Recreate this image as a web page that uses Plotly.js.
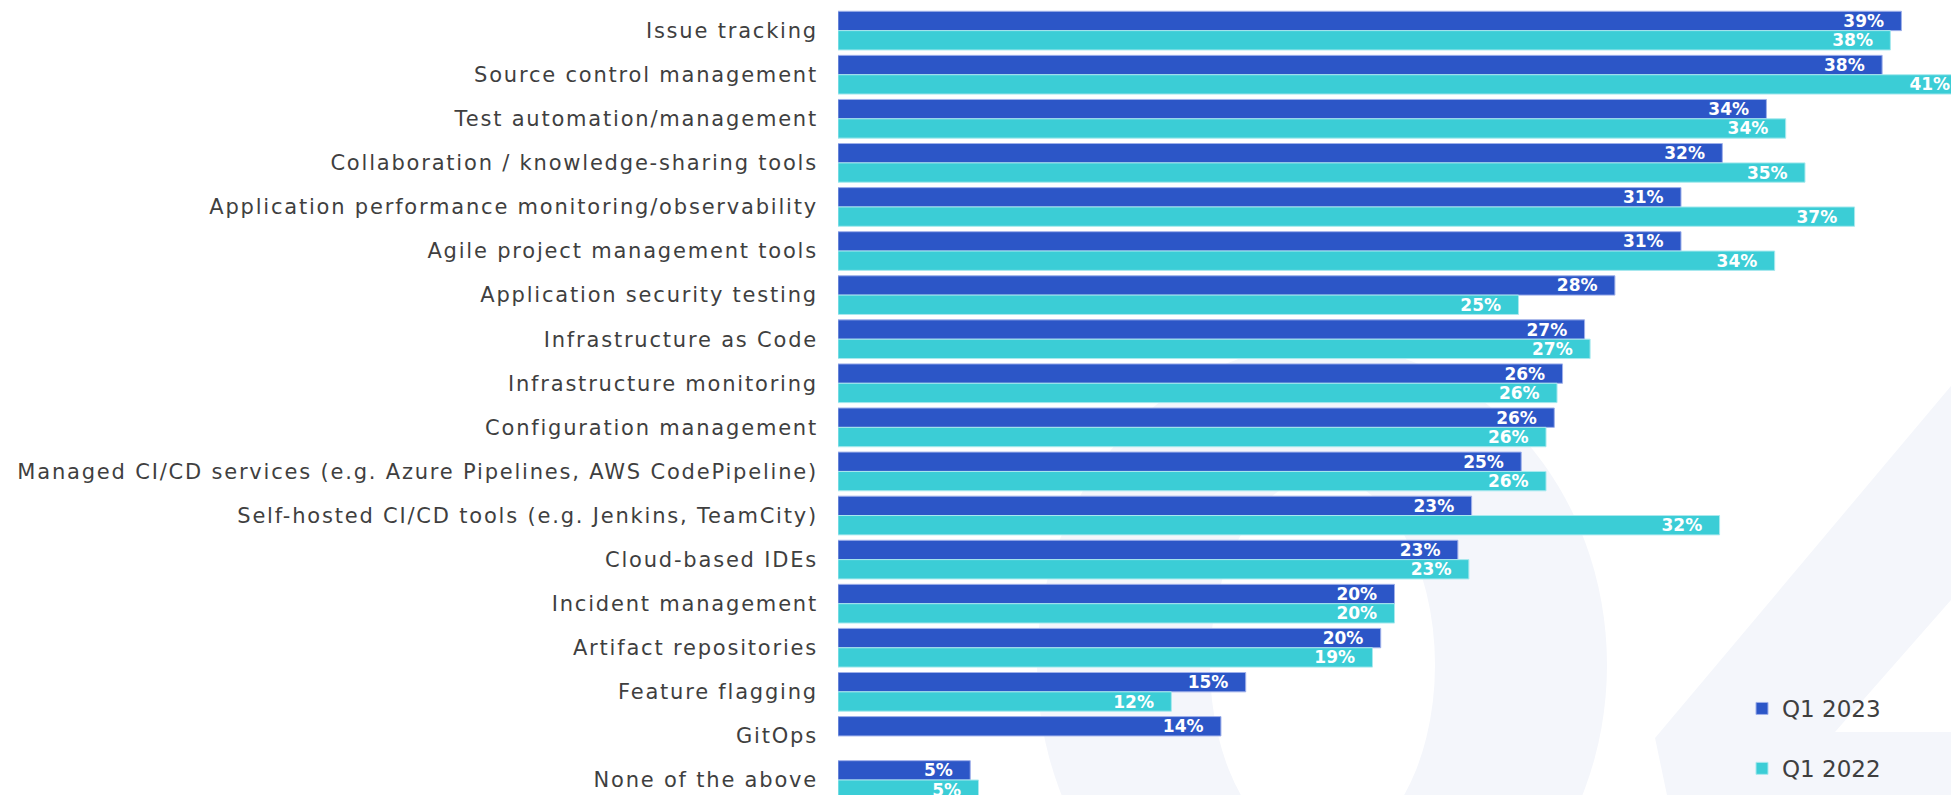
<!DOCTYPE html>
<html>
<head>
<meta charset="utf-8">
<script src="https://cdn.plot.ly/plotly-3.0.1.min.js"></script>
<style>
  html, body { margin: 0; padding: 0; overflow: hidden; background: #ffffff; }
  #chart { width: 1951px; height: 795px; }
  .ytick text { letter-spacing: 1.8px; }
</style>
</head>
<body>
<div id="chart"></div>
<script>
// ---- data ----
var categories = [
  "Issue tracking",
  "Source control management",
  "Test automation/management",
  "Collaboration / knowledge-sharing tools",
  "Application performance monitoring/observability",
  "Agile project management tools",
  "Application security testing",
  "Infrastructure as Code",
  "Infrastructure monitoring",
  "Configuration management",
  "Managed CI/CD services (e.g. Azure Pipelines, AWS CodePipeline)",
  "Self-hosted CI/CD tools (e.g. Jenkins, TeamCity)",
  "Cloud-based IDEs",
  "Incident management",
  "Artifact repositories",
  "Feature flagging",
  "GitOps",
  "None of the above"
];
var seriesNames = ["Q1 2023", "Q1 2022"];
// bar lengths (percent), estimated from the drawn bars
var values2023 = [38.6, 37.9, 33.7, 32.1, 30.6, 30.6, 28.2, 27.1, 26.3, 26.0, 24.8, 23.0, 22.5, 20.2, 19.7, 14.8, 13.9, 4.8];
var values2022 = [38.2, 41.0, 34.4, 35.1, 36.9, 34.0, 24.7, 27.3, 26.1, 25.7, 25.7, 32.0, 22.9, 20.2, 19.4, 12.1, null, 5.1];
// printed labels
var labels2023 = ["39%", "38%", "34%", "32%", "31%", "31%", "28%", "27%", "26%", "26%", "25%", "23%", "23%", "20%", "20%", "15%", "14%", "5%"];
var labels2022 = ["38%", "41%", "34%", "35%", "37%", "34%", "25%", "27%", "26%", "26%", "26%", "32%", "23%", "20%", "19%", "12%", "", "5%"];

// ---- styling ----
var W = 1951, H = 795, ML = 838;
var colors = ["#2c56c7", "#3bcdd6"];
var edgeColors = ["#9fb0ea", "#a9e9ee"];
var pad = "\u2002\u00a0";

function pxX(px) { return (px - ML) / (W - ML); }
function pxY(py) { return 1 - py / H; }
function path(pts) {
  return pts.map(function (p, i) { return (i ? "L" : "M") + pxX(p[0]).toFixed(4) + "," + pxY(p[1]).toFixed(4); }).join(" ") + " Z";
}

function makeTrace(i, vals, labs) {
  return {
    type: "bar",
    orientation: "h",
    name: seriesNames[i],
    y: categories,
    x: vals,
    text: labs.map(function (t) { return t ? t + pad : ""; }),
    textposition: "inside",
    insidetextanchor: "end",
    textangle: 0,
    constraintext: "none",
    cliponaxis: true,
    textfont: { family: "DejaVu Sans", size: 17, color: "#ffffff", weight: 700 },
    marker: { color: colors[i], line: { color: edgeColors[i], width: 1 } },
    legendgroup: "g" + i,
    hoverinfo: "skip"
  };
}

var data = [
  makeTrace(0, values2023, labels2023),
  makeTrace(1, values2022, labels2022)
];

var deco = "#f4f6fb";
var layout = {
  width: W,
  height: H,
  margin: { l: ML, r: 0, t: 0, b: 0, pad: 0 },
  paper_bgcolor: "#ffffff",
  plot_bgcolor: "rgba(0,0,0,0)",
  barmode: "group",
  bargap: 0.122,
  bargroupgap: 0,
  showlegend: true,
  legend: {
    x: pxX(1742), xanchor: "left",
    y: pxY(687), yanchor: "top",
    bgcolor: "rgba(0,0,0,0)",
    font: { family: "DejaVu Sans", size: 23, color: "#3f3f3f" },
    tracegroupgap: 27,
    itemclick: false, itemdoubleclick: false
  },
  xaxis: {
    range: [0, 40.4],
    visible: false,
    showgrid: false,
    zeroline: false,
    fixedrange: true
  },
  yaxis: {
    type: "category",
    categoryorder: "array",
    categoryarray: categories,
    range: [17.34, -0.695],
    showgrid: false,
    zeroline: false,
    showline: false,
    ticks: "",
    ticklabelstandoff: 19,
    tickfont: { family: "DejaVu Sans", size: 21, color: "#3f3f3f" },
    fixedrange: true
  },
  shapes: [
    { type: "circle", xref: "paper", yref: "paper", layer: "below",
      x0: pxX(1037), x1: pxX(1607), y0: pxY(985), y1: pxY(345),
      fillcolor: deco, line: { width: 0 } },
    { type: "circle", xref: "paper", yref: "paper", layer: "below",
      x0: pxX(1210), x1: pxX(1435), y0: pxY(854), y1: pxY(476),
      fillcolor: "#ffffff", line: { width: 0 } },
    { type: "path", xref: "paper", yref: "paper", layer: "below",
      path: path([[1655, 738], [1951, 386], [1951, 600], [1835, 732], [1951, 732], [1951, 795], [1667, 795]]),
      fillcolor: deco, line: { width: 0 } }
  ]
};

Plotly.newPlot("chart", data, layout, { displayModeBar: false, staticPlot: true });
</script>
</body>
</html>
